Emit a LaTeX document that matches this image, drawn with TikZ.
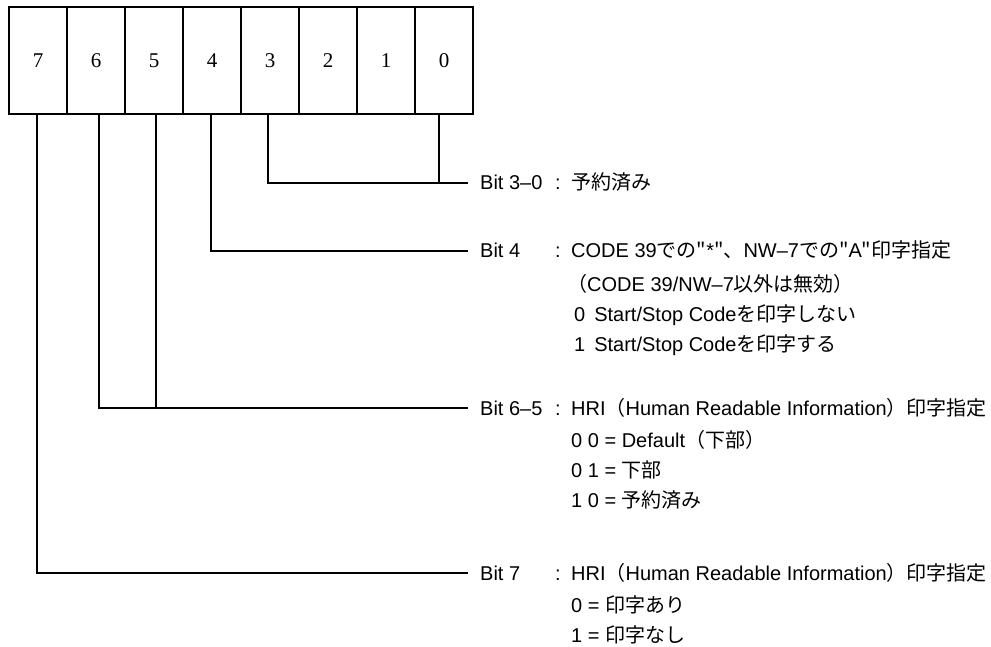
\documentclass[tikz,border=0pt]{standalone}
\usepackage{fontspec}
\setmainfont{Liberation Serif}
\setsansfont{Liberation Sans}
\newfontfamily\jp{Noto Sans CJK JP}
\newcommand{\J}[1]{{\jp #1}}
\usetikzlibrary{positioning}

\tikzset{
  bitcell/.style={draw, line width=1.8pt, minimum width=58pt, minimum height=107pt, inner sep=0pt, font=\fontsize{21}{21}\selectfont},
  lead/.style={line width=1.8pt},
  bitname/.style={anchor=west, inner xsep=12pt, inner ysep=0pt, text height=14pt, text depth=0pt, font=\sffamily\fontsize{20}{20}\selectfont},
  bitdesc/.style={anchor=west, inner sep=0pt, text height=14pt, text depth=0pt, font=\sffamily\fontsize{20}{20}\selectfont},
}

\begin{document}
\begin{tikzpicture}[x=1pt, y=-1pt]
  \useasboundingbox (0,0) rectangle (991,647);

  % register cells, bit 7 on the left
  \foreach \b [count=\i from 0] in {7,6,5,4,3,2,1,0}
    \node[bitcell] (b\b) at (38+58*\i, 60.5) {\b};

  % bit 3-0
  \node[bitname] (n30) at (468,183) {Bit 3–0};
  \node[bitdesc] (c30) at (555,183) {:};
  \node[bitdesc] (t30) at (571,183) {\J{予約済み}};
  \draw[lead] ([xshift=-2pt]b3.south) |- (n30.west);
  \draw[lead] ([xshift=-5pt]b0.south) -- ([xshift=-5pt]b0.south |- n30.west);

  % bit 4
  \node[bitname] (n4) at (468,251) {Bit 4};
  \node[bitdesc] (c4) at (555,251) {:};
  \node[bitdesc] (t4a) at (571,251) {CODE 39\J{での"}*\J{"、}NW–7\J{での"}A\J{"印字指定}};
  \node[bitdesc] (t4b) at (567,284) {\J{（}CODE 39/NW–7\J{以外は無効）}};
  \node[bitdesc] (t4c) at (571,314) {\hspace{3pt}0\hspace{9pt}Start/Stop Code\J{を印字しない}};
  \node[bitdesc] (t4d) at (571,344) {\hspace{3pt}1\hspace{9pt}Start/Stop Code\J{を印字する}};
  \draw[lead] ([xshift=-1pt]b4.south) |- (n4.west);

  % bit 6-5
  \node[bitname] (n65) at (468,408) {Bit 6–5};
  \node[bitdesc] (c65) at (555,408) {:};
  \node[bitdesc] (t65a) at (571,408) {HRI\J{（}Human Readable Information\J{）印字指定}};
  \node[bitdesc] (t65b) at (571,440) {0 0 = Default\J{（下部）}};
  \node[bitdesc] (t65c) at (571,470) {0 1 = \J{下部}};
  \node[bitdesc] (t65d) at (571,500) {1 0 = \J{予約済み}};
  \draw[lead] ([xshift=3pt]b6.south) |- (n65.west);
  \draw[lead] ([xshift=2pt]b5.south) -- ([xshift=2pt]b5.south |- n65.west);

  % bit 7
  \node[bitname] (n7) at (468,573) {Bit 7};
  \node[bitdesc] (c7) at (555,573) {:};
  \node[bitdesc] (t7a) at (571,573) {HRI\J{（}Human Readable Information\J{）印字指定}};
  \node[bitdesc] (t7b) at (571,605) {0 = \J{印字あり}};
  \node[bitdesc] (t7c) at (571,635) {1 = \J{印字なし}};
  \draw[lead] ([xshift=-1pt]b7.south) |- (n7.west);
\end{tikzpicture}
\end{document}
